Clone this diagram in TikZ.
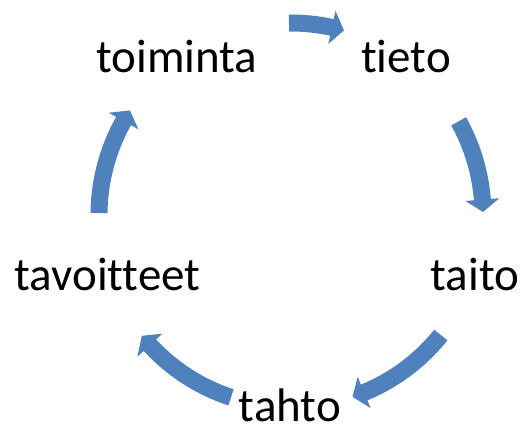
\documentclass[tikz,border=0pt]{standalone}
\usepackage{fontspec}
\setmainfont{Carlito}[Ligatures={NoCommon}]
\definecolor{arrowblue}{HTML}{4F81BD}
\tikzset{
  lbl/.style={anchor=base, inner sep=0pt, font=\fontsize{47}{50}\selectfont, text=black},
  blockarrow/.style={fill=arrowblue, draw=none}
}
% #1 start angle, #2 tip angle
\newcommand{\cycarrow}[2]{%
  \pgfmathsetmacro{\ab}{#2+3.7}%
  \fill[blockarrow] (#1:200.5) arc[start angle=#1, end angle=\ab, radius=200.5]
    -- (\ab:209) -- (#2:192) -- (\ab:175) -- (\ab:183.5)
    arc[start angle=\ab, end angle=#1, radius=183.5] -- cycle;%
}
\begin{document}
\begin{tikzpicture}[x=1pt,y=1pt]
\useasboundingbox (0,0) rectangle (523,428);
\node[lbl] (toiminta) at (177,355) {toiminta};
\node[lbl] (tieto) at (406,355) {tieto};
\node[lbl] (taito) at (475,137) {taito};
\node[lbl] (tahto) at (290,6) {tahto};
\node[lbl] (tavoitteet) at (107.5,137) {tavoitteet};
\coordinate (O) at (291,213);
\begin{scope}[shift={(O)}]
  \cycarrow{90.6}{74}
  \cycarrow{29.2}{0.9}
  \cycarrow{-38.7}{-71.3}
  \cycarrow{-108.2}{-141}
  \cycarrow{179.4}{147}
\end{scope}
\end{tikzpicture}
\end{document}
